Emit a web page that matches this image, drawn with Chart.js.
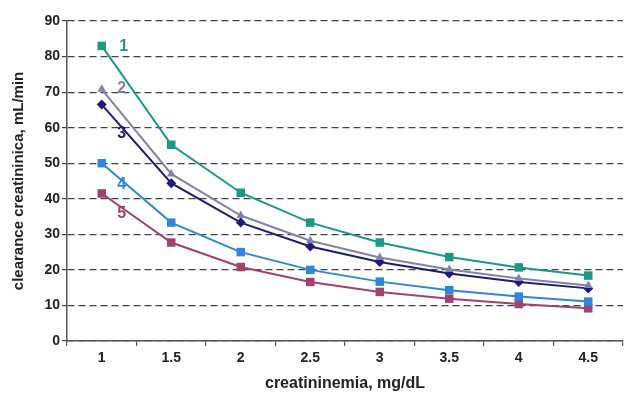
<!DOCTYPE html>
<html>
<head>
<meta charset="utf-8">
<script src="https://cdn.jsdelivr.net/npm/chart.js@4/dist/chart.umd.min.js"></script>
<style>
html,body{margin:0;padding:0;background:#fff;}
#wrap{width:629px;height:393px;position:relative;}
</style>
</head>
<body>
<div id="wrap"><canvas id="c" width="629" height="393"></canvas></div>
<script>
const categories = ["1", "1.5", "2", "2.5", "3", "3.5", "4", "4.5"];
const series1 = [83, 55.2, 41.7, 33.3, 27.7, 23.6, 20.7, 18.4];
const series2 = [70.8, 47, 35.3, 28.2, 23.5, 20.1, 17.6, 15.6];
const series3 = [66.5, 44.4, 33.3, 26.6, 22.2, 19, 16.6, 14.8];
const series4 = [50, 33.3, 25, 20, 16.7, 14.3, 12.5, 11.1];
const series5 = [41.5, 27.7, 20.8, 16.6, 13.8, 11.9, 10.4, 9.2];
const seriesNames = ["1", "2", "3", "4", "5"];
const yTicks = [0, 10, 20, 30, 40, 50, 60, 70, 80, 90];

const colors = ["#1a9986", "#8282ac", "#1b1b7c", "#2f86e0", "#a3416f"];
const shapes = ["rect", "triangle", "rectRot", "rect", "rect"];
const labelOffsets = [[22, 1], [20, -1], [20, 29], [20, 21], [20, 20]];
const allSeries = [series1, series2, series3, series4, series5];

const labelPlugin = {
  id: 'seriesLabels',
  afterDatasetsDraw(chart) {
    const ctx = chart.ctx;
    ctx.save();
    ctx.font = 'bold 16px "Liberation Sans", Arial, sans-serif';
    ctx.textAlign = 'center';
    ctx.textBaseline = 'middle';
    chart.data.datasets.forEach((ds, i) => {
      const pt = chart.getDatasetMeta(i).data[0];
      ctx.fillStyle = colors[i];
      ctx.fillText(seriesNames[i], pt.x + labelOffsets[i][0], pt.y + labelOffsets[i][1]);
    });
    ctx.restore();
  }
};

new Chart(document.getElementById('c'), {
  type: 'line',
  data: {
    labels: categories,
    datasets: allSeries.map((s, i) => ({
      label: seriesNames[i],
      data: s,
      borderColor: colors[i],
      backgroundColor: colors[i],
      borderWidth: 2,
      pointStyle: shapes[i],
      pointRadius: shapes[i] === 'rect' ? 6 : 5,
      pointBorderWidth: 0,
      tension: 0,
      fill: false
    }))
  },
  options: {
    responsive: false,
    animation: false,
    layout: { padding: { top: 21, right: 1, left: 10, bottom: 0 } },
    plugins: { legend: { display: false }, tooltip: { enabled: false } },
    scales: {
      x: {
        type: 'category',
        offset: true,
        grid: { display: true, drawOnChartArea: false, drawTicks: true, tickLength: 5, offset: true, color: '#555', lineWidth: 1.2 },
        border: { display: true, color: '#555', width: 1.5 },
        ticks: { color: '#222', font: { family: '"Liberation Sans", Arial, sans-serif', size: 14, weight: 'bold' }, padding: 4, maxRotation: 0 },
        title: { display: true, text: 'creatininemia, mg/dL', color: '#222', font: { family: '"Liberation Sans", Arial, sans-serif', size: 16, weight: 'bold' }, padding: { top: 5, bottom: 0 } },
        afterFit(scale) { scale.height = 52; }
      },
      y: {
        min: 0, max: 90,
        afterBuildTicks(scale) { scale.ticks = yTicks.map(v => ({ value: v })); },
        grid: { color: '#444', lineWidth: 1.2, drawTicks: true, tickLength: 5 },
        border: { display: true, color: '#555', width: 1.5, dash: [7, 4] },
        ticks: { color: '#222', font: { family: '"Liberation Sans", Arial, sans-serif', size: 14, weight: 'bold' }, padding: 2 },
        title: { display: true, text: 'clearance creatininica, mL/min', color: '#222', font: { family: '"Liberation Sans", Arial, sans-serif', size: 15, weight: 'bold' }, padding: { top: 0, bottom: 6 } },
        afterFit(scale) { scale.width = 57; }
      }
    }
  },
  plugins: [labelPlugin]
});
</script>
</body>
</html>
